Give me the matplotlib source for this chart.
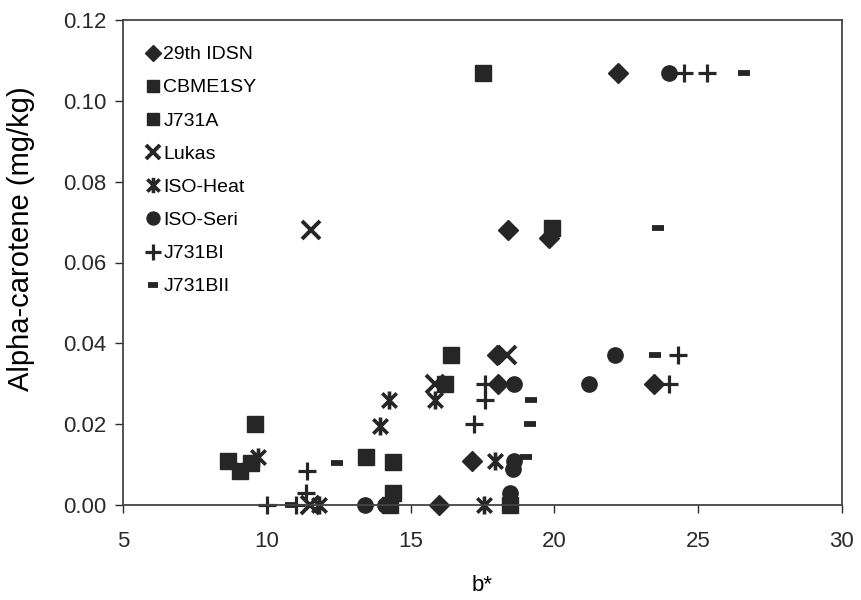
import matplotlib
matplotlib.use("Agg")
from matplotlib import pyplot as plt
from matplotlib.path import Path

plt.rcParams['font.family'] = ['Liberation Sans', 'DejaVu Sans']

# b* (x) and alpha-carotene mg/kg (y) per line
idsn_x = [22.2, 18.4, 19.8, 18.0, 18.05, 23.45, 17.15, 16.0]
idsn_y = [0.107, 0.068, 0.066, 0.037, 0.030, 0.030, 0.011, 0.0]

cbme_x = [17.5, 19.9, 16.4, 9.6, 8.65, 14.4, 18.45]
cbme_y = [0.107, 0.0686, 0.037, 0.020, 0.011, 0.003, 0.0]

j731a_x = [16.2, 9.05, 9.45, 13.45, 14.4, 14.3]
j731a_y = [0.030, 0.0085, 0.0103, 0.0118, 0.0106, 0.0]

lukas_x = [11.55, 18.35, 15.85, 11.5]
lukas_y = [0.068, 0.037, 0.030, 0.0]

heat_x = [14.25, 13.95, 15.85, 9.7, 17.95, 17.55, 11.8]
heat_y = [0.026, 0.0195, 0.026, 0.012, 0.011, 0.0, 0.0]

seri_x = [24.0, 22.1, 18.6, 21.2, 18.6, 18.55, 13.4, 14.1, 18.45]
seri_y = [0.107, 0.037, 0.030, 0.030, 0.011, 0.0088, 0.0, 0.0, 0.003]

bi_x = [24.5, 25.3, 24.3, 24.0, 17.6, 17.6, 17.2, 11.4, 11.35, 10.0, 11.0]
bi_y = [0.107, 0.107, 0.037, 0.030, 0.030, 0.026, 0.020, 0.0085, 0.003, 0.0, 0.0]

bii_x = [26.6, 23.6, 23.5, 19.2, 19.15, 19.0, 12.45, 10.85]
bii_y = [0.107, 0.0685, 0.037, 0.026, 0.020, 0.012, 0.0103, 0.0]

ink = "#262626"

# excel style asterisk: an x with a vertical bar through it
star = Path([(0, -1), (0, 1), (-0.8, -0.8), (0.8, 0.8), (-0.8, 0.8), (0.8, -0.8)],
            [Path.MOVETO, Path.LINETO, Path.MOVETO, Path.LINETO, Path.MOVETO, Path.LINETO])

fig = plt.figure(figsize=(8.61, 6.0), dpi=100)
ax = fig.add_axes([0.1429, 0.1583, 0.835, 0.8084])

ax.plot(idsn_x, idsn_y, "D", color=ink, ms=10, ls="none", label="29th IDSN", clip_on=False)
ax.plot(cbme_x, cbme_y, "s", color=ink, ms=11, ls="none", label="CBME1SY", clip_on=False)
ax.plot(j731a_x, j731a_y, "s", color=ink, ms=11, ls="none", label="J731A", clip_on=False)
ax.plot(lukas_x, lukas_y, "x", color=ink, ms=12.5, mew=2.8, ls="none", label="Lukas", clip_on=False)
ax.plot(heat_x, heat_y, marker=star, color=ink, mec=ink, ms=13, mew=2.6, ls="none", label="ISO-Heat", clip_on=False)
ax.plot(seri_x, seri_y, "o", color=ink, ms=11, ls="none", label="ISO-Seri", clip_on=False)
ax.plot(bi_x, bi_y, "+", color=ink, ms=13, mew=2.3, ls="none", label="J731BI", clip_on=False)
ax.plot(bii_x, bii_y, "_", color=ink, ms=8.5, mew=4.2, ls="none", label="J731BII", clip_on=False)

ax.set_xlim(5, 30)
ax.set_ylim(0, 0.12)
ax.set_xticks([5, 10, 15, 20, 25, 30])
ax.set_yticks([0.0, 0.02, 0.04, 0.06, 0.08, 0.10, 0.12])
ax.set_yticklabels(["0.00", "0.02", "0.04", "0.06", "0.08", "0.10", "0.12"])
ax.tick_params(direction="out", length=6, width=1, labelsize=16, colors="#2a2a2a", pad=6)
ax.tick_params(axis="x", pad=13)

for s in ax.spines.values():
    s.set_color("#444444")
    s.set_linewidth(1.3)

ax.set_xlabel("b*", fontsize=16, labelpad=16)
ax.set_ylabel("Alpha-carotene (mg/kg)", fontsize=21)
ax.yaxis.set_label_coords(-0.122, 0.55)

leg = ax.legend(loc="upper left", bbox_to_anchor=(0.157, 0.94), bbox_transform=fig.transFigure,
                frameon=False, fontsize=14, handlelength=0.8, handletextpad=0.15,
                labelspacing=0.8, borderpad=0, markerscale=0.85)

fig.savefig("out.png", dpi=100)
